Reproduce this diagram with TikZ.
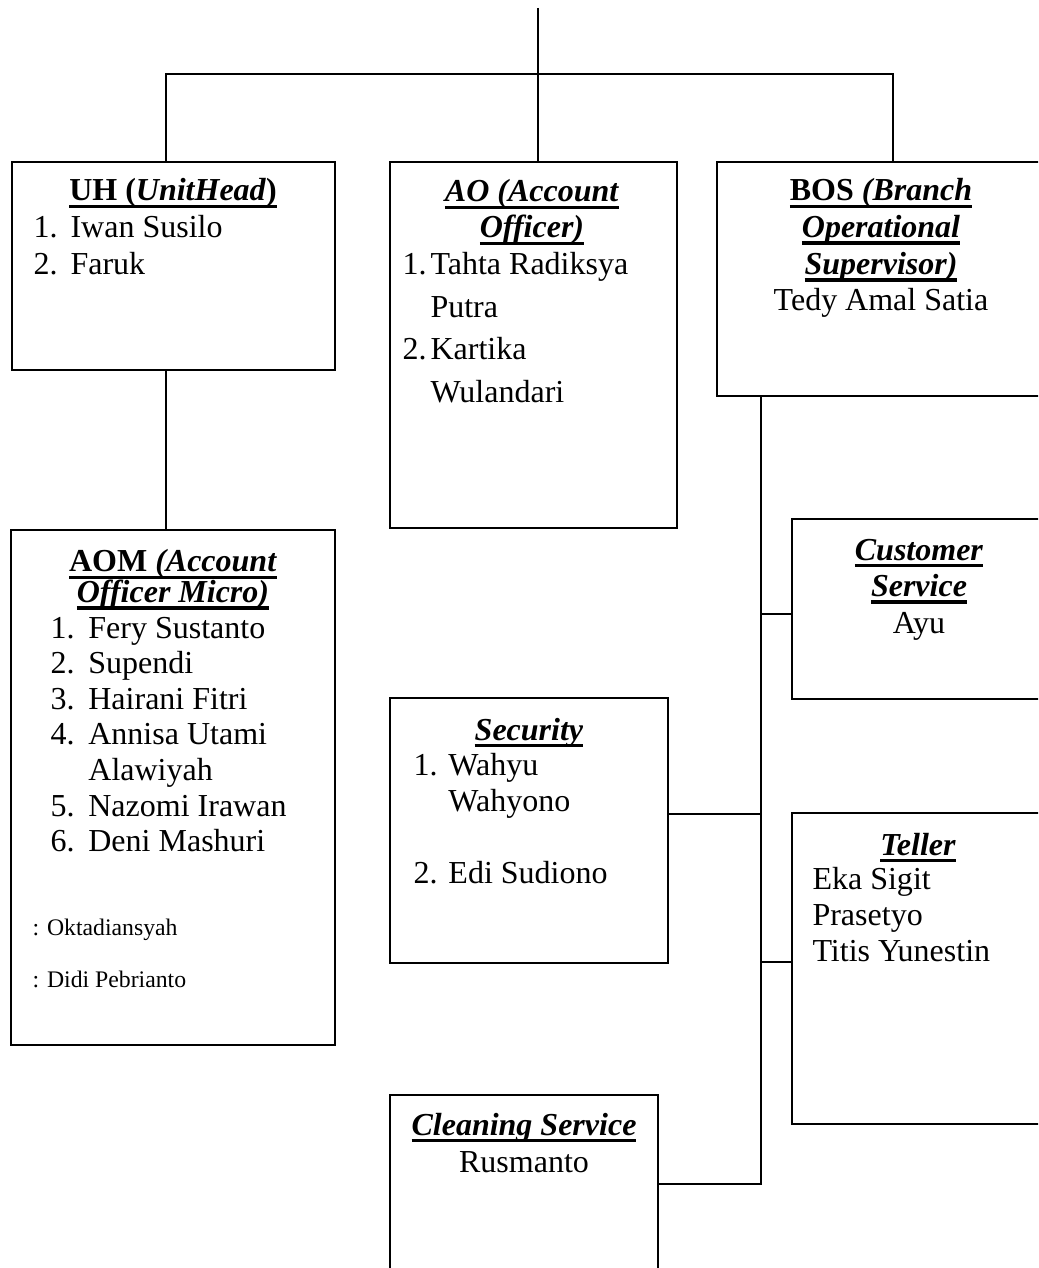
\documentclass[tikz,border=0pt]{standalone}
\usepackage{fontspec}
\setmainfont{Liberation Serif}
\usetikzlibrary{fit}

\newcommand{\uln}[1]{\setbox0\hbox{#1}\rlap{\rule[-2.8pt]{\wd0}{1.4pt}}\box0}
\newcommand{\headln}[1]{\uln{\textbf{#1}}}
\newcommand{\itemno}[2][13.9pt]{\makebox[#1][l]{#2}}
\newcommand{\rows}[1]{\begin{tabular}[t]{@{}l@{}}#1\end{tabular}}
\newcommand{\crows}[1]{\begin{tabular}[t]{@{}c@{}}#1\end{tabular}}
\newcommand{\sz}[1]{\fontsize{12}{#1}\selectfont}

\begin{document}
\begin{tikzpicture}[
        x=0.375pt, y=-0.375pt,
        unit/.style={draw, line width=0.9pt, inner sep=0pt},
        link/.style={line width=0.7pt},
        txt/.style={inner sep=0pt, anchor=base, font=\sz{13.8pt}}
    ]
    \useasboundingbox (0,0) rectangle (1038,1268);
    \clip (0,0) rectangle (1038,1268);

    % Boxes
    \node[unit, fit={(12,162) (335,370)}] (uh) {};
    \node[unit, fit={(390,162) (677,528)}] (ao) {};
    \node[unit, fit={(717,162) (1060,396)}] (bos) {};
    \node[unit, fit={(11,530) (335,1045)}] (aom) {};
    \node[unit, fit={(792,519) (1060,699)}] (cs) {};
    \node[unit, fit={(390,698) (668,963)}] (sec) {};
    \node[unit, fit={(792,813) (1060,1124)}] (tel) {};
    \node[unit, fit={(390,1095) (658,1273)}] (cln) {};

    % UH
    \node[txt] (uhhead) at (173,201) {\headln{UH (\textit{UnitHead})}};
    \node[txt, anchor=base west] (uhlist) at (33,238) {\rows{\itemno{1.}Iwan Susilo\\ \itemno{2.}Faruk}};

    % AO
    \node[txt, font=\sz{13.5pt}] (aohead) at (532,202) {\crows{\headln{\textit{AO (Account}}\\ \headln{\textit{Officer)}}}};
    \node[txt, anchor=base west, font=\sz{15.9pt}] (aolist) at (402,275)
        {\rows{\itemno[10.5pt]{1.}Tahta Radiksya\\ \itemno[10.5pt]{}Putra\\ \itemno[10.5pt]{2.}Kartika\\ \itemno[10.5pt]{}Wulandari}};

    % BOS
    \node[txt, font=\sz{13.75pt}] (boshead) at (881,201)
        {\crows{\headln{BOS \textit{(Branch}}\\ \headln{\textit{Operational}}\\ \headln{\textit{Supervisor)}}\\ Tedy Amal Satia}};

    % AOM
    \node[txt, font=\sz{11.2pt}] (aomhead) at (173,572) {\crows{\headln{AOM \textit{(Account}}\\[-0.5pt] \headln{\textit{Officer Micro)}}}};
    \node[txt, anchor=base west, font=\sz{13.35pt}] (aomlist) at (50,638)
        {\rows{\itemno[14.2pt]{1.}Fery Sustanto\\ \itemno[14.2pt]{2.}Supendi\\ \itemno[14.2pt]{3.}Hairani Fitri\\
               \itemno[14.2pt]{4.}Annisa Utami\\ \itemno[14.2pt]{}Alawiyah\\ \itemno[14.2pt]{5.}Nazomi Irawan\\ \itemno[14.2pt]{6.}Deni Mashuri}};
    \node[txt, anchor=base west, font=\fontsize{8.9}{19.5pt}\selectfont] (aomnote) at (32,935)
        {\rows{: Oktadiansyah\\ : Didi Pebrianto}};

    % Customer Service
    \node[txt, font=\sz{13.7pt}] (cshead) at (919,560) {\crows{\headln{\textit{Customer}}\\ \headln{\textit{Service}}\\ Ayu}};

    % Security
    \node[txt] (sechead) at (529,740) {\headln{\textit{Security}}};
    \node[txt, anchor=base west, font=\sz{13.5pt}] (seclist) at (413,775)
        {\rows{\itemno[13.1pt]{1.}Wahyu\\ \itemno[13.1pt]{}Wahyono\\ \\ \itemno[13.1pt]{2.}Edi Sudiono}};

    % Teller
    \node[txt] (telhead) at (918,855) {\headln{\textit{Teller}}};
    \node[txt, anchor=base west, font=\sz{13.5pt}] (tellist) at (812,889) {\rows{Eka Sigit\\ Prasetyo\\ Titis Yunestin}};

    % Cleaning Service
    \node[txt, font=\sz{13.9pt}] (clnhead) at (524,1135) {\crows{\headln{\textit{Cleaning Service}}\\ Rusmanto}};

    % Lines
    \coordinate (top) at (538,8);
    \coordinate (barL) at (166,74);
    \coordinate (barR) at (893,74);
    \coordinate (spine) at (761,396);
    \coordinate (csin) at ([yshift=-1.9pt]cs.west);
    \coordinate (secout) at ([yshift=6.2pt]sec.east);
    \coordinate (telin) at ([yshift=2.4pt]tel.west);

    \draw[link] (top) -- (top |- ao.north);
    \draw[link] (barL |- uh.north) -- (barL) -- (barR) -- (barR |- bos.north);
    \draw[link] (barL |- uh.south) -- (barL |- aom.north);
    \draw[link] (spine |- bos.south) -- (spine |- cln.east) -- (cln.east);
    \draw[link] (spine |- csin) -- (csin);
    \draw[link] (secout) -- (spine |- secout);
    \draw[link] (spine |- telin) -- (telin);

\end{tikzpicture}
\end{document}
